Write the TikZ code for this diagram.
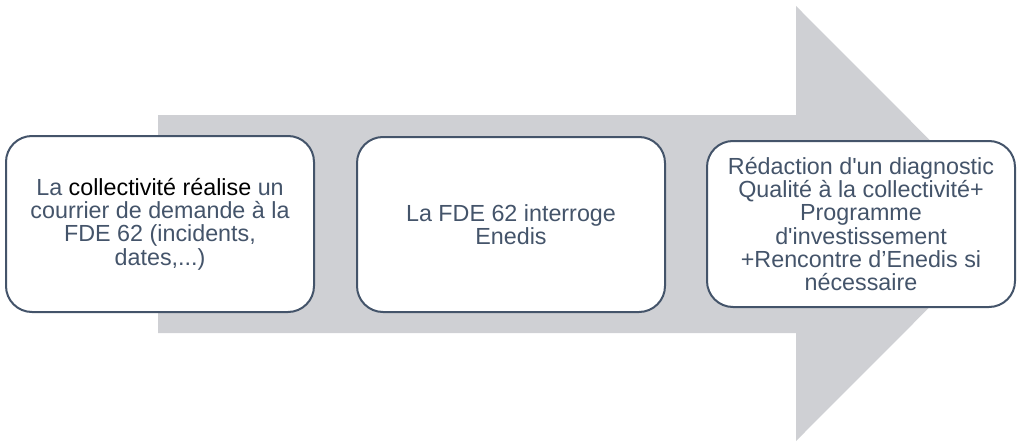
\documentclass[tikz,border=0pt]{standalone}
\usepackage{fontspec}
\setmainfont{Liberation Sans}[Ligatures=TeXOff]
\usepackage{xcolor}
\definecolor{Col1}{RGB}{68,84,106}
\definecolor{Col2}{RGB}{207,208,212}
\usepackage{tikz}
\tikzstyle{Step}=[draw=Col1,fill=white,line width=2pt,rounded corners=26pt,
minimum width=308pt,align=center,text=Col1,
font=\fontsize{23.3}{23.3}\selectfont]
\tikzstyle{Flow}=[fill=Col2,draw=none]

\begin{document}
\begin{tikzpicture}[x=1pt,y=-1pt]
        \useasboundingbox (0,0) rectangle (1024,444);
        \fill[Flow] (158,115) -- (796,115) -- (796,6) -- (1013,223.5)
            -- (796,441) -- (796,333) -- (158,333) -- cycle;
        \node[Step,minimum height=176pt](1)at(160,224){La
            \textcolor{black}{collectivité réalise} un\\courrier de demande à la\\
            FDE 62 (incidents,\\dates,...)};
        \node[Step,minimum height=175pt](2)at(511,224.5){La FDE 62 interroge\\Enedis};
        \node[Step,minimum height=166pt](3)at(861,224){Rédaction d'un diagnostic\\
            Qualité à la collectivité+\\Programme\\d'investissement\\
            +Rencontre d’Enedis si\\nécessaire};
    \end{tikzpicture}
\end{document}
